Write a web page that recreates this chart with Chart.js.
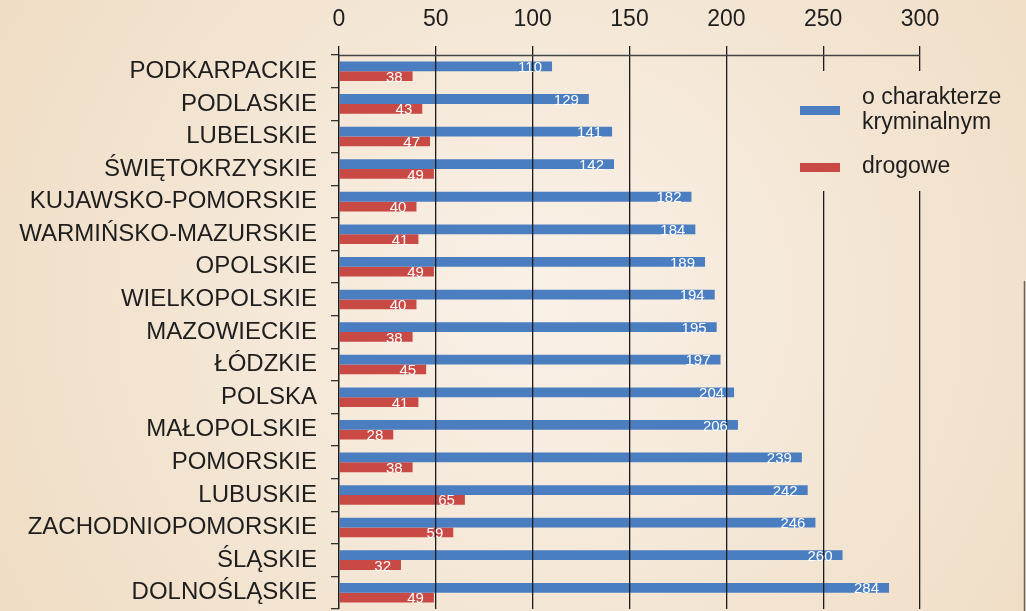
<!DOCTYPE html>
<html>
<head>
<meta charset="utf-8">
<script src="https://cdn.jsdelivr.net/npm/chart.js@4/dist/chart.umd.min.js"></script>
<style>
  html, body { margin: 0; padding: 0; background: #f3e5d2; }
  #wrap { width: 1026px; height: 611px; position: relative; }
</style>
</head>
<body>
<div id="wrap"><canvas id="chart" width="1026" height="611"></canvas></div>
<script>
const regions = [
  "PODKARPACKIE", "PODLASKIE", "LUBELSKIE", "ŚWIĘTOKRZYSKIE", "KUJAWSKO-POMORSKIE",
  "WARMIŃSKO-MAZURSKIE", "OPOLSKIE", "WIELKOPOLSKIE", "MAZOWIECKIE", "ŁÓDZKIE",
  "POLSKA", "MAŁOPOLSKIE", "POMORSKIE", "LUBUSKIE", "ZACHODNIOPOMORSKIE",
  "ŚLĄSKIE", "DOLNOŚLĄSKIE"
]
const criminal = [110, 129, 141, 142, 182, 184, 189, 194, 195, 197, 204, 206, 239, 242, 246, 260, 284]
const traffic  = [38, 43, 47, 49, 40, 41, 49, 40, 38, 45, 41, 28, 38, 65, 59, 32, 49]
const seriesNames = ["o charakterze kryminalnym", "drogowe"]

const FONT = "'Liberation Sans', Arial, sans-serif"
const INK  = "#1e1e1e"
const BLUE = "#4a7ec0"
const RED  = "#c94a45"

function bgGradient(ctx) {
  const g = ctx.createRadialGradient(540, 300, 20, 540, 300, 640)
  g.addColorStop(0, "#f9f0e6")
  g.addColorStop(1, "#efdcc3")
  return g
}

const paperPlugin = {
  id: "paper",
  beforeDraw(chart) {
    const { ctx, width, height } = chart
    ctx.save()
    ctx.fillStyle = bgGradient(ctx)
    ctx.fillRect(0, 0, width, height)
    // scan edge on the right
    ctx.strokeStyle = "#6b6259"
    ctx.lineWidth = 1.5
    ctx.beginPath()
    ctx.moveTo(1024.5, 281)
    ctx.lineTo(1024.5, height)
    ctx.stroke()
    ctx.restore()
  }
}

const overlayPlugin = {
  id: "overlay",
  afterDraw(chart) {
    const { ctx, chartArea } = chart
    ctx.save()
    // top axis line
    ctx.strokeStyle = "#444"
    ctx.lineWidth = 1.3
    ctx.beginPath()
    ctx.moveTo(chartArea.left, chartArea.top + 0.5)
    ctx.lineTo(chartArea.right, chartArea.top + 0.5)
    ctx.stroke()

    // box behind the legend hides the grid lines
    ctx.fillStyle = bgGradient(ctx)
    ctx.fillRect(780, 71, 240, 120)

    ctx.font = `23px ${FONT}`
    ctx.textBaseline = "middle"
    ctx.textAlign = "left"

    ctx.fillStyle = BLUE
    ctx.fillRect(800, 106, 40, 9)
    ctx.fillStyle = INK
    ctx.fillText("o charakterze", 862, 98)
    ctx.fillText("kryminalnym", 862, 123)

    ctx.fillStyle = RED
    ctx.fillRect(800, 163, 40, 9)
    ctx.fillStyle = INK
    ctx.fillText(seriesNames[1], 862, 167)
    ctx.restore()

    // value labels inside bar ends
    ctx.save()
    ctx.font = `15px ${FONT}`
    ctx.fillStyle = "#ffffff"
    ctx.textAlign = "right"
    ctx.textBaseline = "middle"
    chart.data.datasets.forEach((ds, i) => {
      chart.getDatasetMeta(i).data.forEach((bar, j) => {
        ctx.fillText(String(ds.data[j]), bar.x - 10, bar.y + 1.5)
      })
    })
    ctx.restore()
  }
}

new Chart(document.getElementById("chart"), {
  type: "bar",
  data: {
    labels: regions,
    datasets: [
      { label: seriesNames[0], data: criminal, backgroundColor: BLUE },
      { label: seriesNames[1], data: traffic, backgroundColor: RED }
    ]
  },
  options: {
    indexAxis: "y",
    responsive: false,
    animation: false,
    categoryPercentage: 0.6,
    barPercentage: 1.0,
    layout: { padding: { top: 0, right: 106, bottom: 2, left: 0 } },
    plugins: {
      legend: { display: false },
      tooltip: { enabled: false }
    },
    scales: {
      x: {
        type: "linear",
        position: "top",
        min: 0,
        max: 300,
        afterFit: s => { s.height = 55 },
        ticks: { stepSize: 50, color: INK, font: { family: FONT, size: 23 }, padding: 13 },
        grid: { color: "#1c1c1c", lineWidth: 1.3, tickLength: 9, z: 1 },
        border: { display: false }
      },
      y: {
        afterFit: s => { s.width = 339; s.paddingTop = 0; s.paddingBottom = 0 },
        ticks: { autoSkip: false, color: INK, font: { family: FONT, size: 24 }, padding: 14 },
        grid: { offset: true, drawOnChartArea: false, tickLength: 8, color: "#333", lineWidth: 1.3 },
        border: { display: true, color: "#333", width: 1.3 }
      }
    }
  },
  plugins: [paperPlugin, overlayPlugin]
})
</script>
</body>
</html>
